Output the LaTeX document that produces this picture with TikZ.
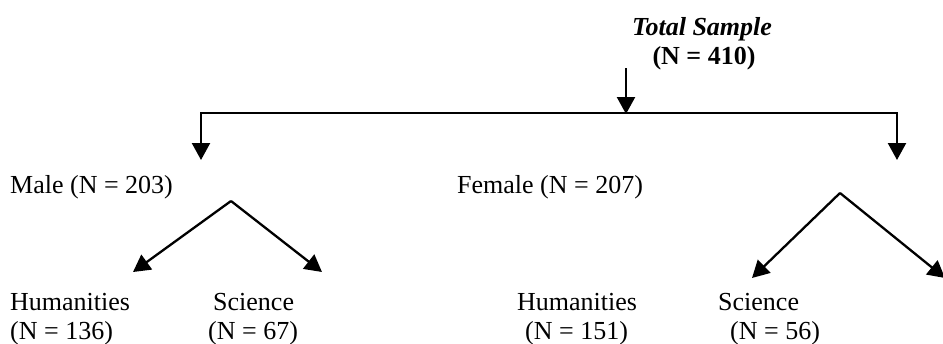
\documentclass[tikz,border=0pt]{standalone}
\usepackage{fontspec}
\setmainfont{Liberation Serif}
\usetikzlibrary{arrows.meta}
\begin{document}
\begin{tikzpicture}[x=1pt,y=-1pt,
  txt/.style={inner sep=0pt, font=\fontsize{26}{30}\selectfont},
  lbl/.style={txt, anchor=base west},
  ttl/.style={txt, anchor=base, font=\fontsize{26}{30}\selectfont\bfseries},
  conn/.style={line width=2.3pt, -{Triangle[width=18pt,length=17pt]}},
  frame/.style={line width=2.3pt, line join=miter, {Triangle[width=18pt,length=17pt]}-{Triangle[width=18pt,length=17pt]}}]
\useasboundingbox (0,0) rectangle (943,343);
% texts
\node[ttl, font=\fontsize{26}{30}\selectfont\bfseries\itshape] (total) at (702,35) {Total Sample};
\node[ttl] (totaln) at (704,64) {(N = 410)};
\node[lbl] (male) at (10,193) {Male (N = 203)};
\node[lbl] (female) at (457,193) {Female (N = 207)};
\node[lbl] (mh) at (10,310) {Humanities};
\node[lbl] (mhn) at (10,339) {(N = 136)};
\node[lbl] (ms) at (213,310) {Science};
\node[lbl] (msn) at (208,339) {(N = 67)};
\node[lbl] (fh) at (517,310) {Humanities};
\node[lbl] (fhn) at (525,339) {(N = 151)};
\node[lbl] (fs) at (718,310) {Science};
\node[lbl] (fsn) at (730,339) {(N = 56)};
% connector points
\coordinate (top) at (626,68);
\coordinate (mid) at (626,114);
\coordinate (lt) at (201,160);
\coordinate (hr) at (897,113);
\coordinate (rt) at (897,160);
\coordinate (mapex) at (231,201);
\coordinate (mhtip) at (133,272);
\coordinate (mstip) at (322,272);
\coordinate (fapex) at (840,193);
\coordinate (fhtip) at (752,278);
\coordinate (fstip) at (945,278);
% connectors
\draw[conn] (top) -- (mid);
\draw[frame] (lt) |- (hr) -- (rt);
\draw[conn] (mapex) -- (mhtip);
\draw[conn] (mapex) -- (mstip);
\draw[conn] (fapex) -- (fhtip);
\draw[conn] (fapex) -- (fstip);
\end{tikzpicture}
\end{document}
